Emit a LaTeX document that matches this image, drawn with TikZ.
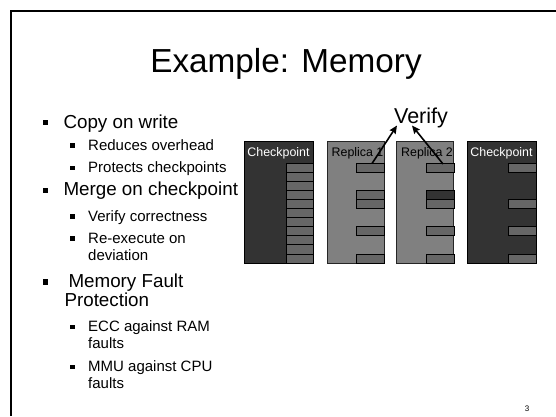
\documentclass[tikz,border=0pt]{standalone}
\usepackage{fontspec}
\setmainfont{Liberation Sans}
\usetikzlibrary{arrows.meta}

\definecolor{ckfill}{HTML}{333333}
\definecolor{repfill}{HTML}{808080}
\definecolor{pagefill}{HTML}{666666}

\tikzset{
  lvlone/.style={anchor=base west, inner sep=0pt, font=\fontsize{18.8}{21}\selectfont},
  lvltwo/.style={anchor=base west, inner sep=0pt, font=\fontsize{15}{16.6}\selectfont},
  bulone/.style={fill=black, minimum size=5.6pt, inner sep=0pt},
  bultwo/.style={fill=black, minimum size=4.6pt, inner sep=0pt},
  ckbox/.style={draw=black, fill=ckfill, line width=0.8pt, minimum width=69pt, minimum height=122pt, inner sep=0pt},
  repbox/.style={draw=black!85, fill=repfill, line width=0.8pt, minimum width=57pt, minimum height=122pt, inner sep=0pt},
  pg/.style={draw=black, fill=pagefill, line width=0.8pt},
  pgdark/.style={draw=black, fill=ckfill, line width=0.8pt},
  boxlabel/.style={anchor=base, inner sep=0pt, font=\fontsize{12.4}{14}\selectfont},
  verifyarrow/.style={line width=1.6pt, -{Stealth[length=8pt, width=7pt, inset=1pt]}}
}

\begin{document}
\begin{tikzpicture}[x=1pt, y=-1pt]
\useasboundingbox (0,0) rectangle (556,416);
\fill[white] (0,0) rectangle (556,416);

% slide frame (left and top edges)
\draw[line width=2pt] (10.5,416) -- (10.5,10.5) -- (556,10.5);

% title
\node[anchor=base, inner sep=0pt, font=\fontsize{33.3}{36}\selectfont] (title) at (286,72) {Example: Memory};

% bullet list
\node[bulone] (b1) at (45.5,122.5) {};
\node[lvlone] (t1) at (63.3,128) {Copy on write};
\node[bultwo] (b2) at (72.5,145.5) {};
\node[lvltwo] (t2) at (88,150) {Reduces overhead};
\node[bultwo] (b3) at (72.5,168) {};
\node[lvltwo] (t3) at (88,172) {Protects checkpoints};
\node[bulone] (b4) at (45.5,190.5) {};
\node[lvlone] (t4) at (63.3,195.5) {Merge on checkpoint};
\node[bultwo] (b5) at (72.5,216.5) {};
\node[lvltwo] (t5) at (88,221) {Verify correctness};
\node[bultwo] (b6) at (72.5,238.5) {};
\node[lvltwo] (t6) at (88,243) {Re-execute on};
\node[lvltwo] (t6b) at (88,260) {deviation};
\node[bulone] (b7) at (45.5,282) {};
\node[lvlone] (t7) at (68.3,287) {Memory Fault};
\node[lvlone] (t7b) at (64.3,306) {Protection};
\node[bultwo] (b8) at (72.5,327) {};
\node[lvltwo] (t8) at (88,331.5) {ECC against RAM};
\node[lvltwo] (t8b) at (88,348.5) {faults};
\node[bultwo] (b9) at (72.5,367) {};
\node[lvltwo] (t9) at (88,371.5) {MMU against CPU};
\node[lvltwo] (t9b) at (88,388.5) {faults};

% page number
\node[anchor=base, inner sep=0pt, font=\fontsize{8}{9}\selectfont] (pnum) at (527,411.5) {3};

% memory images
\node[ckbox]  (m1) at (278.5,202) {};
\node[repbox] (m2) at (355.5,202) {};
\node[repbox] (m3) at (425,202) {};
\node[ckbox]  (m4) at (501.5,202) {};

% pages of the first checkpoint
\foreach \i in {0,...,10}
  \draw[pg] (286,163+\i*9.09) rectangle ++(27.5,9.09);
% pages touched by replica 1
\foreach \i in {0,3,4,7,10}
  \draw[pg] (356,163+\i*9.09) rectangle ++(28,9.09);
% pages touched by replica 2 (one differs)
\foreach \i in {0,4,7,10}
  \draw[pg] (426,163+\i*9.09) rectangle ++(28,9.09);
\draw[pgdark] (426,163+3*9.09) rectangle ++(28,9.09);
% pages of the merged checkpoint
\foreach \i in {0,4,7,10}
  \draw[pg] (508,163+\i*9.09) rectangle ++(28,9.09);

\node[boxlabel, text=white] (l1) at (m1.center |- 0,156.7) {Checkpoint};
\node[boxlabel] (l2) at (357.5,156.7) {Replica 1};
\node[boxlabel] (l3) at (427,156.7) {Replica 2};
\node[boxlabel, text=white] (l4) at (m4.center |- 0,156.7) {Checkpoint};

% verification
\node[anchor=base, inner sep=0pt, font=\fontsize{21.5}{24}\selectfont] (verify) at (421,123.5) {Verify};
\coordinate (s1) at (372,163.5);
\coordinate (s2) at (443,164);
\coordinate (v1) at (397,125.5);
\coordinate (v2) at (412,125.5);
\draw[verifyarrow] (s1) -- (v1);
\draw[verifyarrow] (s2) -- (v2);
\end{tikzpicture}
\end{document}
